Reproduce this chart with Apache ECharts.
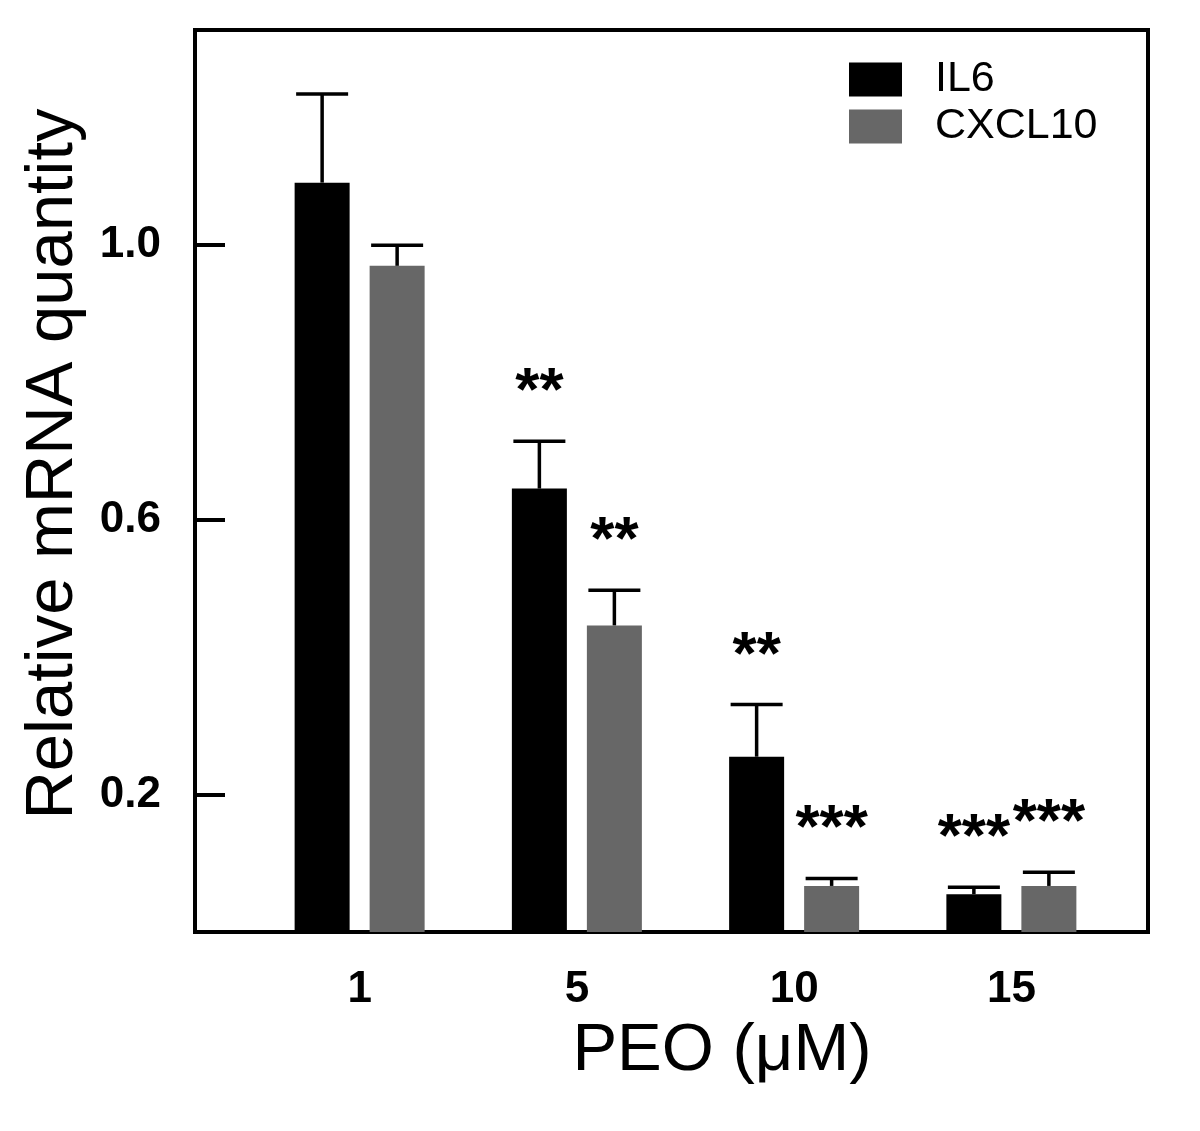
<!DOCTYPE html>
<html>
<head>
<meta charset="utf-8">
<script src="https://cdn.jsdelivr.net/npm/echarts@6/dist/echarts.min.js"></script>
<style>
html,body{margin:0;padding:0;background:#fff;}
#chart{width:1200px;height:1131px;}
</style>
</head>
<body>
<div id="chart"></div>
<script>
const categories = ['1', '5', '10', '15'];
const il6 = [1.09, 0.645, 0.255, 0.055];
const il6Err = [0.129, 0.069, 0.076, 0.010];
const cxcl10 = [0.969, 0.446, 0.067, 0.067];
const cxcl10Err = [0.030, 0.051, 0.011, 0.020];
const il6Sig = ['', '**', '**', '***'];
const cxcl10Sig = ['', '**', '***', '***'];
const yTicks = [0.2, 0.6, 1.0];
const seriesNames = ['IL6', 'CXCL10'];

const FONT = "'Liberation Sans', Arial, sans-serif";
const Y_MAX = 1.312;
const BAR_W = 55;
const BAR_GAP_PX = 20;
const OFF = (BAR_W + BAR_GAP_PX) / 2;

function errRender(sig, dx) {
  return function (params, api) {
    const i = api.value(0), m = api.value(1), e = api.value(2);
    const base = api.coord([i, m]);
    const top = api.coord([i, m + e]);
    const x = base[0] + dx;
    const children = [
      { type: 'line', shape: { x1: x, y1: base[1], x2: x, y2: top[1] },
        style: { stroke: '#000', lineWidth: 3.5 } },
      { type: 'line', shape: { x1: x - 26, y1: top[1], x2: x + 26, y2: top[1] },
        style: { stroke: '#000', lineWidth: 3.5 } }
    ];
    const s = sig[params.dataIndex];
    if (s) {
      children.push({ type: 'text', style: { text: s, x: x, y: top[1] - 48,
        textAlign: 'center', textVerticalAlign: 'middle',
        font: 'bold 62px ' + FONT, fill: '#000' } });
    }
    return { type: 'group', children: children };
  };
}

const chart = echarts.init(document.getElementById('chart'), null, { renderer: 'canvas' });
chart.setOption({
  animation: false,
  backgroundColor: '#fff',
  legend: {
    data: seriesNames,
    orient: 'vertical',
    left: 849, top: 58,
    padding: 0,
    itemWidth: 53, itemHeight: 34, itemGap: 4,
    icon: 'rect',
    textStyle: { fontSize: 43, fontFamily: FONT, color: '#000', padding: [0, 0, 0, 28] }
  },
  grid: [
    { left: 195, top: 30, width: 953, height: 902, show: true,
      borderColor: '#000', borderWidth: 4, backgroundColor: 'transparent' },
    { left: 251, top: 30, width: 869, height: 902 }
  ],
  xAxis: [
    { type: 'value', gridIndex: 0, show: false, min: 0, max: 1 },
    { type: 'category', gridIndex: 1, data: categories, boundaryGap: true,
      axisLine: { show: false }, axisTick: { show: false }, splitLine: { show: false },
      axisLabel: { fontSize: 44, fontWeight: 'bold', fontFamily: FONT, color: '#000', margin: 36 },
      name: 'PEO (\u03bcM)', nameLocation: 'middle', nameGap: 86,
      nameTextStyle: { fontSize: 67, fontFamily: FONT, color: '#000', padding: [0, 0, 0, 73] } }
  ],
  yAxis: [
    { type: 'value', gridIndex: 0, min: 0, max: Y_MAX,
      axisLine: { show: false },
      splitLine: { show: false },
      axisTick: { show: true, inside: true, length: 30, customValues: yTicks,
        lineStyle: { color: '#000', width: 4 } },
      axisLabel: { customValues: yTicks, fontSize: 44, fontWeight: 'bold', fontFamily: FONT,
        color: '#000', margin: 34, padding: [10, 0, 0, 0],
        formatter: v => v.toFixed(1) },
      name: 'Relative mRNA quantity', nameLocation: 'middle', nameGap: 108,
      nameTextStyle: { fontSize: 67, fontFamily: FONT, color: '#000', padding: [0, 0, 0, 34] } },
    { type: 'value', gridIndex: 1, min: 0, max: Y_MAX, show: false }
  ],
  series: [
    { name: 'IL6', type: 'bar', xAxisIndex: 1, yAxisIndex: 1, data: il6,
      barWidth: BAR_W, barGap: (BAR_GAP_PX / BAR_W * 100) + '%',
      itemStyle: { color: '#000' } },
    { name: 'CXCL10', type: 'bar', xAxisIndex: 1, yAxisIndex: 1, data: cxcl10,
      barWidth: BAR_W, itemStyle: { color: '#676767' } },
    { type: 'custom', xAxisIndex: 1, yAxisIndex: 1, z: 5,
      data: categories.map((c, i) => [i, il6[i], il6Err[i]]),
      encode: { x: 0, y: 1 }, renderItem: errRender(il6Sig, -OFF) },
    { type: 'custom', xAxisIndex: 1, yAxisIndex: 1, z: 5,
      data: categories.map((c, i) => [i, cxcl10[i], cxcl10Err[i]]),
      encode: { x: 0, y: 1 }, renderItem: errRender(cxcl10Sig, OFF) }
  ]
});
</script>
</body>
</html>
